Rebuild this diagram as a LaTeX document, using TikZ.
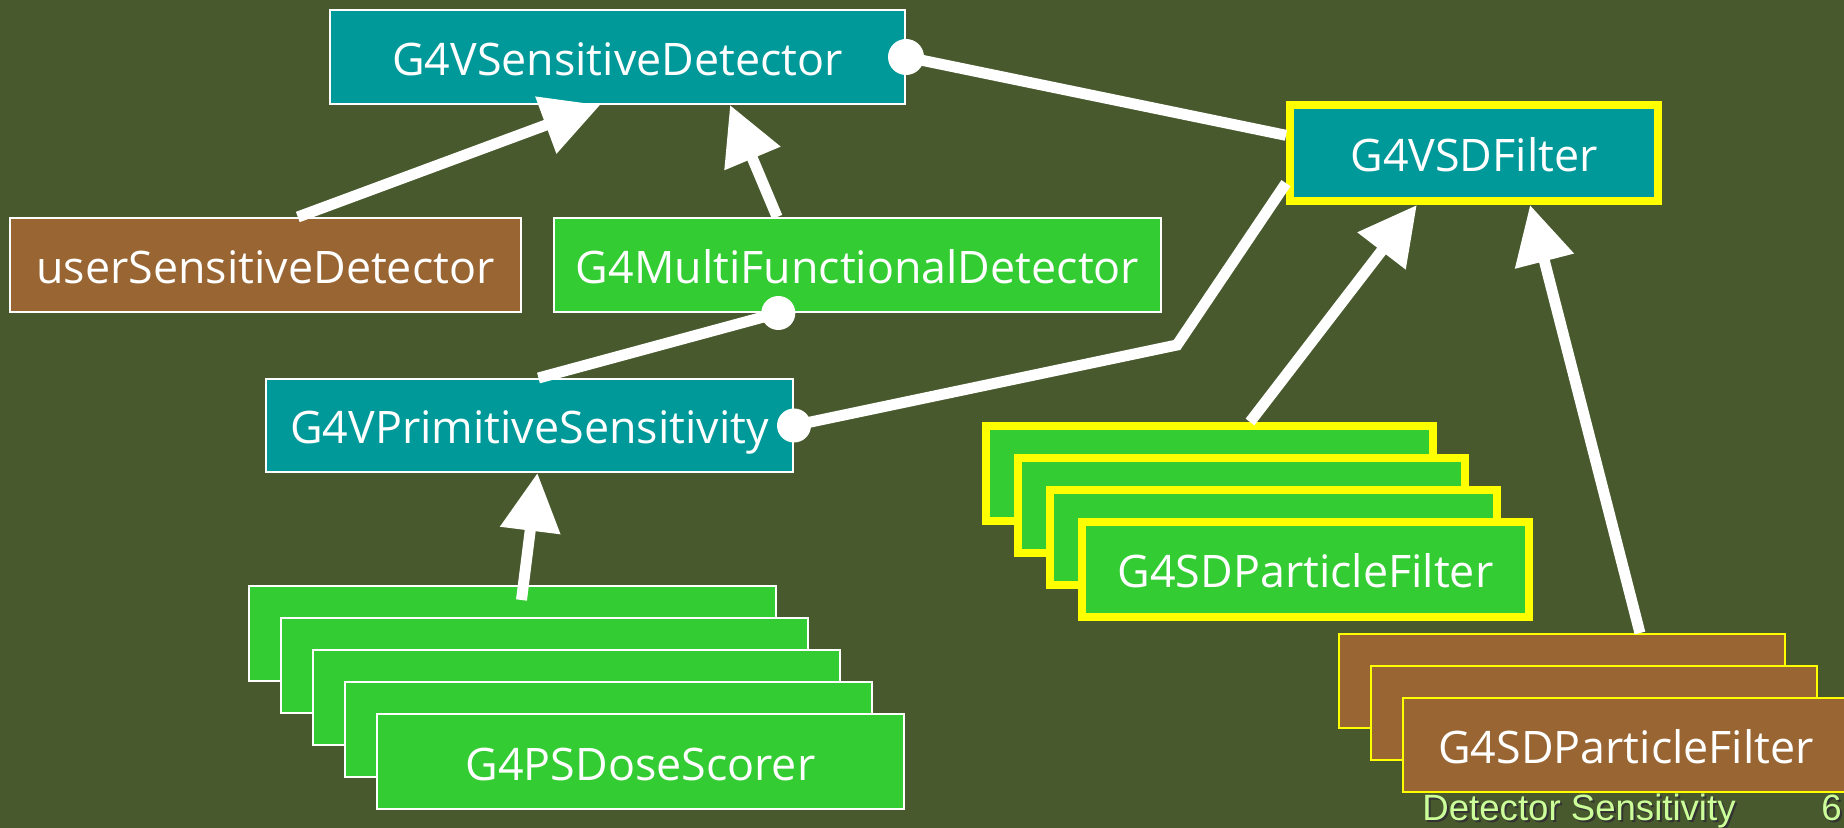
\documentclass[tikz,border=0pt]{standalone}
\usepackage{fontspec}
\setmainfont{Open Sans}
\newfontfamily\footfont{Liberation Sans}
\usetikzlibrary{arrows.meta,calc}
\definecolor{bg}{HTML}{485A2D}
\definecolor{teal}{HTML}{009999}
\definecolor{grn}{HTML}{33CC33}
\definecolor{brn}{HTML}{996633}
\definecolor{ylw}{HTML}{FFFF00}
\definecolor{foot}{HTML}{CCFF99}
\tikzset{
  box/.style={draw=white, line width=1pt, inner sep=0pt, text=white,
    font=\fontsize{22.4}{25}\selectfont, text height=18.5pt, text depth=0pt},
  tealbox/.style={box, fill=teal},
  grnbox/.style={box, fill=grn, minimum width=263.5pt, minimum height=47.5pt},
  ybox/.style={box, fill=grn, draw=ylw, line width=4pt, minimum width=223.5pt, minimum height=47.5pt},
  bbox/.style={box, fill=brn, draw=ylw, line width=1pt, minimum width=223pt, minimum height=47pt},
  conn/.style={draw=white, line width=5.5pt},
  arr/.style={conn, -{Triangle[length=29pt,width=29pt]}},
  dotend/.style={fill=white},
  foottxt/.style={font=\footfont\fontsize{18.3}{20}\selectfont, inner sep=0pt, anchor=base west}
}
\begin{document}
\begin{tikzpicture}[x=0.5pt,y=-0.5pt]
\fill[bg] (0,0) rectangle (1844,828);
\useasboundingbox (0,0) rectangle (1844,828);

% top level
\node[tealbox, minimum width=287.5pt, minimum height=47pt] (gsd) at (617.5,57) {G4VSensitiveDetector};
\node[tealbox, draw=ylw, line width=4pt, minimum width=184pt, minimum height=48pt] (vsd) at (1474,153) {G4VSDFilter};
\node[box, fill=brn, minimum width=255.5pt, minimum height=47pt] (usd) at (265.5,265) {userSensitiveDetector};
\node[box, fill=grn, minimum width=303.5pt, minimum height=47pt] (mfd) at (857.5,265) {G4MultiFunctionalDetector};
\node[tealbox, minimum width=263.5pt, minimum height=46.5pt] (vp) at (529.5,425.5) {G4VPrimitiveSensitivity};

% dose scorer stack
\node[grnbox] (ds1) at (512.5,633.5) {};
\node[grnbox] (ds2) at (544.5,665.5) {};
\node[grnbox] (ds3) at (576.5,697.5) {};
\node[grnbox] (ds4) at (608.5,729.5) {};
\node[grnbox] (ds5) at (640.5,761.5) {G4PSDoseScorer};

% particle filter stack (yellow)
\node[ybox] (pf1) at (1209.5,473.5) {};
\node[ybox] (pf2) at (1241.5,505.5) {};
\node[ybox] (pf3) at (1273.5,537.5) {};
\node[ybox] (pf4) at (1305.5,569.5) {G4SDParticleFilter};

% particle filter stack (brown)
\node[bbox] (bf1) at (1562,681) {};
\node[bbox] (bf2) at (1594,713) {};
\node[bbox] (bf3) at (1626,745) {G4SDParticleFilter};

% connectors
\draw[arr] ($(usd.north west)!0.563!(usd.north east)$) -- ($(gsd.south west)!0.47!(gsd.south east)$);
\draw[arr] ($(mfd.north west)!0.368!(mfd.north east)$) -- ($(gsd.south west)!0.695!(gsd.south east)$);
\draw[conn] (gsd.east) -- ($(vsd.north west)!0.33!(vsd.south west)$);
\coordinate (kink) at (1177,345);
\draw[conn, line join=miter] (vp.east) -- (kink) -- ($(vsd.north west)!0.79!(vsd.south west)$);
\draw[conn] ($(mfd.south west)!0.37!(mfd.south east)$) -- ($(vp.north west)!0.517!(vp.north east)$);
\draw[arr] ([yshift=-7.5pt]$(ds1.north west)!0.517!(ds1.north east)$) -- ($(vp.south west)!0.515!(vp.south east)$);
\draw[arr] ($(pf1.north west)!0.589!(pf1.north east)$) -- ($(vsd.south west)!0.348!(vsd.south east)$);
\draw[arr] ($(bf1.north west)!0.674!(bf1.north east)$) -- ($(vsd.south west)!0.649!(vsd.south east)$);

% dot ends
\fill[dotend] (gsd.east) circle (9pt);
\fill[dotend] ($(mfd.south west)!0.37!(mfd.south east)$) circle (8.5pt);
\fill[dotend] (vp.east) circle (8.5pt);

% footer
\node[foottxt, text=black!80] (ftsh) at (1424,822) {Detector Sensitivity};
\node[foottxt, text=foot] (ft) at (1422,820) {Detector Sensitivity};
\node[foottxt, text=black!80] (pgsh) at (1823,822) {6};
\node[foottxt, text=foot] (pg) at (1821,820) {6};
\end{tikzpicture}
\end{document}
